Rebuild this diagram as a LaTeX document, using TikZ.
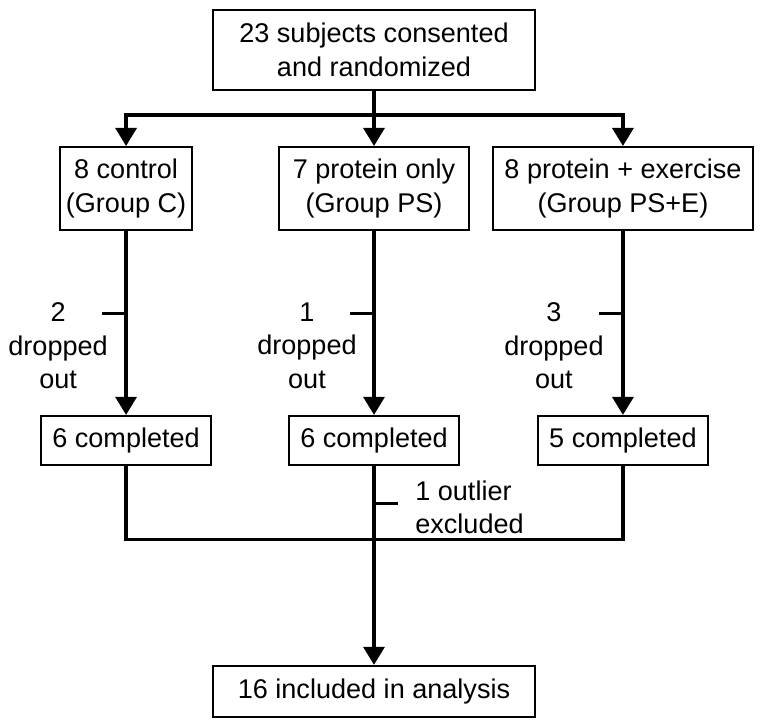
\documentclass[tikz,border=0pt]{standalone}
\usepackage{fontspec}
\setmainfont{Liberation Sans}
\usetikzlibrary{calc}
\usetikzlibrary{positioning}
\usetikzlibrary{arrows.meta}

\begin{document}
\begin{tikzpicture}[
    font=\fontsize{15.4pt}{19pt}\selectfont,
    box/.style={draw, rectangle, line width=1.1pt, align=center, inner sep=2pt},
    arr/.style={-{Triangle[width=0.42cm, length=0.36cm]}, line width=1.8pt},
    ln/.style={line width=1.8pt},
    note/.style={align=center, inner sep=0pt}
]
    \useasboundingbox (0,0) rectangle (15.22,-14.46);

    % enrolment
    \node[box, minimum width=6.44cm, minimum height=1.6cm] (enrol) at (7.48,-1.0) {23 subjects consented\\and randomized};
    % groups
    \node[box, minimum width=3.8cm, minimum height=1.66cm, below=1.1cm of enrol] (gps) {7 protein only\\(Group PS)};
    \node[box, minimum width=2.64cm, minimum height=1.66cm, left=1.7cm of gps] (gc) {8 control\\(Group C)};
    \node[box, minimum width=5.2cm, minimum height=1.66cm, right=0.44cm of gps] (gpse) {8 protein + exercise\\(Group PS+E)};
    \coordinate (split) at ($(enrol.south)+(0,-0.48)$);
    \draw[arr] (enrol) -- (gps);
    \draw[arr] (split) -| (gc);
    \draw[arr] (split) -| (gpse);
    % completed
    \node[box, minimum width=3.4cm, minimum height=0.98cm, below=3.68cm of gc] (cc) {6 completed};
    \node[box, minimum width=3.4cm, minimum height=0.98cm, below=3.68cm of gps] (cps) {6 completed};
    \node[box, minimum width=3.4cm, minimum height=0.98cm, below=3.68cm of gpse] (cpse) {5 completed};
    \draw[arr] (gc) -- (cc);
    \draw[arr] (gps) -- (cps);
    \draw[arr] (gpse) -- (cpse);
    % drop outs
    \coordinate (dc) at ($(gc.south)!0.45!(cc.north)$);
    \coordinate (dps) at ($(gps.south)!0.45!(cps.north)$);
    \coordinate (dpse) at ($(gpse.south)!0.45!(cpse.north)$);
    \draw[ln] (dc) -- ++(-0.48,0) coordinate (dce);
    \draw[ln] (dps) -- ++(-0.48,0) coordinate (dpse2);
    \draw[ln] (dpse) -- ++(-0.48,0) coordinate (dpsee);
    \node[note] (lc) at ($(dce)+(-0.88,-0.64)$) {2\\dropped\\out};
    \node[note] (lps) at ($(dpse2)+(-0.86,-0.64)$) {1\\dropped\\out};
    \node[note] (lpse) at ($(dpsee)+(-0.9,-0.64)$) {3\\dropped\\out};
    % analysis
    \node[box, minimum width=6.44cm, minimum height=1.02cm, below=3.98cm of cps] (final) {16 included in analysis};
    \coordinate (join) at ($(cps.south)+(0,-1.48)$);
    \draw[ln] (cc) |- (join) -| (cpse);
    \draw[ln] (cps) -- (join);
    \draw[arr] (join) -- (final);
    % outlier
    \coordinate (out) at ($(cps.south)!0.51!(join)$);
    \draw[ln] (out) -- ++(0.48,0) coordinate (oute);
    \node[note, align=left, anchor=west] (lout) at ($(oute)+(0.34,-0.08)$) {1 outlier\\excluded};

\end{tikzpicture}
\end{document}
